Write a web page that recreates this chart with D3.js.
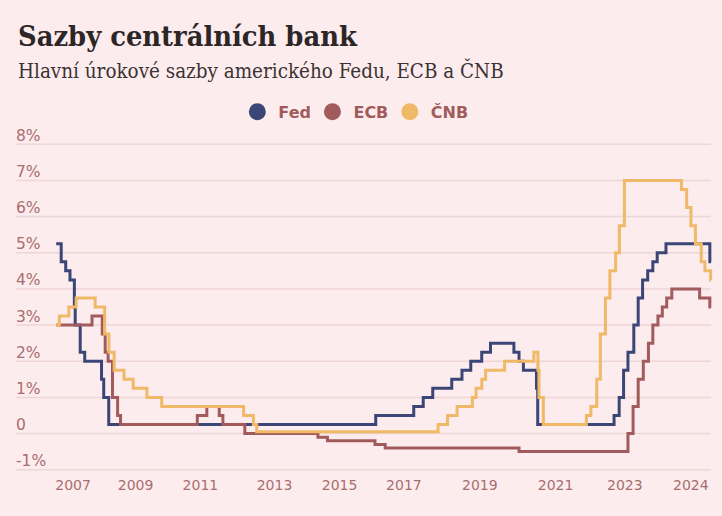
<!DOCTYPE html>
<html>
<head>
<meta charset="utf-8">
<script src="https://cdn.jsdelivr.net/npm/d3@7"></script>
<style>
  html, body { margin: 0; padding: 0; background: #fdeced; }
  svg { display: block; }
</style>
</head>
<body>
<div id="chart"></div>
<script>
// Sazby centrálních bank – data (změny sazeb, hodnota platí od data)
const seriesNames = ["Fed", "ECB", "ČNB"];
const seriesColors = ["#3b4677", "#a25b5c", "#f0b967"];

const fedSteps = [
  ["2007-08-01", 5.25], ["2007-09-18", 4.75], ["2007-10-31", 4.5], ["2007-12-11", 4.25],
  ["2008-01-22", 3.5], ["2008-01-30", 3.0], ["2008-03-18", 2.25], ["2008-04-30", 2.0],
  ["2008-10-08", 1.5], ["2008-10-29", 1.0], ["2008-12-16", 0.25], ["2015-12-16", 0.5],
  ["2016-12-14", 0.75], ["2017-03-15", 1.0], ["2017-06-14", 1.25], ["2017-12-13", 1.5],
  ["2018-03-21", 1.75], ["2018-06-13", 2.0], ["2018-09-26", 2.25], ["2018-12-19", 2.5],
  ["2019-07-31", 2.25], ["2019-09-18", 2.0], ["2019-10-30", 1.75], ["2020-03-03", 1.25],
  ["2020-03-15", 0.25], ["2022-03-16", 0.5], ["2022-05-04", 1.0], ["2022-06-15", 1.75],
  ["2022-07-27", 2.25], ["2022-09-21", 3.0], ["2022-11-02", 3.75], ["2022-12-14", 4.25],
  ["2023-02-01", 4.5], ["2023-03-22", 4.75], ["2023-05-03", 5.0], ["2023-07-26", 5.25],
  ["2024-09-18", 4.75]
];

const ecbSteps = [
  ["2007-08-01", 3.0], ["2008-07-09", 3.25], ["2008-10-15", 2.75], ["2008-11-12", 2.25],
  ["2008-12-10", 2.0], ["2009-01-21", 1.0], ["2009-03-11", 0.5], ["2009-04-08", 0.25],
  ["2011-04-13", 0.5], ["2011-07-13", 0.75], ["2011-11-09", 0.5], ["2011-12-14", 0.25],
  ["2012-07-11", 0], ["2014-06-11", -0.1], ["2014-09-10", -0.2], ["2015-12-09", -0.3],
  ["2016-03-16", -0.4], ["2019-09-18", -0.5], ["2022-07-27", 0], ["2022-09-14", 0.75],
  ["2022-11-02", 1.5], ["2022-12-21", 2.0], ["2023-02-08", 2.5], ["2023-03-22", 3.0],
  ["2023-05-10", 3.25], ["2023-06-21", 3.5], ["2023-08-02", 3.75], ["2023-09-20", 4.0],
  ["2024-06-12", 3.75], ["2024-09-18", 3.5]
];

const cnbSteps = [
  ["2007-08-01", 3.0], ["2007-08-31", 3.25], ["2007-11-30", 3.5], ["2008-02-08", 3.75],
  ["2008-08-08", 3.5], ["2008-11-07", 2.75], ["2008-12-18", 2.25], ["2009-02-06", 1.75],
  ["2009-05-11", 1.5], ["2009-08-07", 1.25], ["2009-12-17", 1.0], ["2010-05-07", 0.75],
  ["2012-06-29", 0.5], ["2012-10-01", 0.25], ["2012-11-02", 0.05], ["2017-08-04", 0.25],
  ["2017-11-03", 0.5], ["2018-02-02", 0.75], ["2018-06-28", 1.0], ["2018-08-03", 1.25],
  ["2018-09-27", 1.5], ["2018-11-02", 1.75], ["2019-05-03", 2.0], ["2020-02-07", 2.25],
  ["2020-03-17", 1.75], ["2020-03-27", 1.0], ["2020-05-08", 0.25], ["2021-06-24", 0.5],
  ["2021-08-06", 0.75], ["2021-10-01", 1.5], ["2021-11-05", 2.75], ["2021-12-23", 3.75],
  ["2022-02-04", 4.5], ["2022-03-31", 5.0], ["2022-05-06", 5.75], ["2022-06-23", 7.0],
  ["2023-12-21", 6.75], ["2024-02-09", 6.25], ["2024-03-21", 5.75], ["2024-05-03", 5.25],
  ["2024-06-28", 4.75], ["2024-08-02", 4.5], ["2024-09-26", 4.25]
];

const startDate = "2007-08-01";
const endDate = "2024-09-30";

const yTicks = [-1, 0, 1, 2, 3, 4, 5, 6, 7, 8];
const yTickLabels = ["-1%", "0", "1%", "2%", "3%", "4%", "5%", "6%", "7%", "8%"];

// popisky osy x sedí v originálu na těchto pozicích
const xTickDates = ["2008-01-05", "2009-08-25", "2011-05-08", "2013-04-16", "2014-12-30",
  "2016-09-06", "2018-09-03", "2020-08-28", "2022-06-22", "2024-03-15"];
const xTickLabels = ["2007", "2009", "2011", "2013", "2015", "2017", "2019", "2021", "2023", "2024"];

const W = 722, H = 516;
const parse = d3.timeParse("%Y-%m-%d");
const serif = "'DejaVu Serif Condensed', 'DejaVu Serif', serif";

const svg = d3.select("#chart").append("svg")
  .attr("width", W)
  .attr("height", H);

svg.append("rect").attr("width", W).attr("height", H).attr("fill", "#fdeced");

// text s velikostí písma dopočtenou na cílovou šířku
function fittedText(str, xPos, yPos, width, weight, color) {
  const t = svg.append("text")
    .attr("x", xPos).attr("y", yPos)
    .attr("font-family", serif)
    .attr("font-weight", weight)
    .attr("font-size", 20)
    .attr("fill", color)
    .text(str);
  const len = t.node().getComputedTextLength();
  t.attr("font-size", 20 * width / len);
  return t;
}

fittedText("Sazby centrálních bank", 18, 46, 339, "bold", "#2d2626");
fittedText("Hlavní úrokové sazby amerického Fedu, ECB a ČNB", 18, 78, 486, "normal", "#3a3333");

// škály
const x = d3.scaleTime()
  .domain([parse(startDate), parse(endDate)])
  .range([56.2, 711.1]);

const y = d3.scaleLinear()
  .domain([-1, 8])
  .range([469.7, 144.3]);

// mřížka + popisky osy y
const grid = svg.append("g");
grid.selectAll("line")
  .data(yTicks)
  .enter().append("line")
  .attr("x1", 16).attr("x2", 711)
  .attr("y1", d => y(d)).attr("y2", d => y(d))
  .attr("stroke", "#efd6d6")
  .attr("stroke-width", 1.5);

grid.selectAll("text")
  .data(yTicks)
  .enter().append("text")
  .attr("x", 16)
  .attr("y", d => y(d) - 3.5)
  .attr("font-family", "'DejaVu Sans', sans-serif")
  .attr("font-size", 15.5)
  .attr("fill", "#a86e6f")
  .text((d, i) => yTickLabels[i]);

// osa x
const xAxis = d3.axisBottom(x)
  .tickValues(xTickDates.map(parse))
  .tickFormat((d, i) => xTickLabels[i])
  .tickSize(0)
  .tickPadding(0);

const gx = svg.append("g")
  .attr("transform", "translate(0,477)")
  .call(xAxis);
gx.select(".domain").remove();
gx.selectAll("text")
  .attr("font-family", "'DejaVu Sans', sans-serif")
  .attr("font-size", 14)
  .attr("fill", "#a86e6f")
  .attr("dy", "0.95em");

// linie
const allSteps = [fedSteps, ecbSteps, cnbSteps];
const line = d3.line()
  .x(d => x(d.date))
  .y(d => y(d.value))
  .curve(d3.curveStepAfter);

allSteps.forEach((steps, i) => {
  const data = steps.map(s => ({ date: parse(s[0]), value: s[1] }));
  data.push({ date: parse(endDate), value: data[data.length - 1].value });
  svg.append("path")
    .datum(data)
    .attr("fill", "none")
    .attr("stroke", seriesColors[i])
    .attr("stroke-width", 3)
    .attr("stroke-linejoin", "miter")
    .attr("d", line);
});

// legenda
const legend = svg.append("g");
const r = 8.5;
let cursor = 0;
seriesNames.forEach((name, i) => {
  const item = legend.append("g").attr("transform", `translate(${cursor},0)`);
  item.append("circle")
    .attr("cx", r).attr("cy", 0).attr("r", r)
    .attr("fill", seriesColors[i]);
  const t = item.append("text")
    .attr("x", 2 * r + 12.5)
    .attr("y", 6)
    .attr("font-family", "'DejaVu Sans', sans-serif")
    .attr("font-weight", "bold")
    .attr("font-size", 16)
    .attr("fill", "#a25b5c")
    .text(name);
  cursor += 2 * r + 12.5 + t.node().getComputedTextLength() + 13;
});
const legendWidth = cursor - 13;
legend.attr("transform", `translate(${358.5 - legendWidth / 2},111.7)`);
</script>
</body>
</html>
